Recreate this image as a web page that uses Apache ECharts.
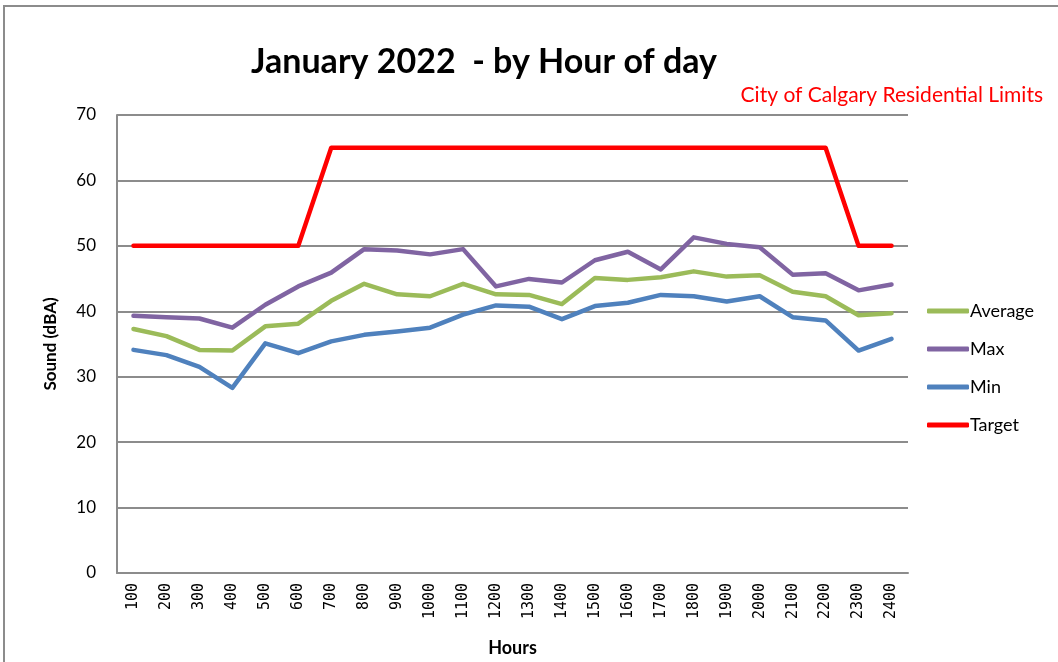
<!DOCTYPE html>
<html><head><meta charset="utf-8">
<script src="https://cdn.jsdelivr.net/npm/echarts@6/dist/echarts.min.js"></script>
<style>html,body{margin:0;padding:0;background:#fff}#c{width:1058px;height:662px}</style>
</head><body><div id="c"></div>
<script>
const hours = ['100','200','300','400','500','600','700','800','900','1000','1100','1200','1300','1400','1500','1600','1700','1800','1900','2000','2100','2200','2300','2400'];
const average = [37.3,36.2,34.1,34.0,37.7,38.1,41.6,44.2,42.6,42.3,44.2,42.6,42.5,41.1,45.1,44.8,45.2,46.1,45.3,45.5,43.0,42.3,39.4,39.7];
const maxv = [39.3,39.1,38.9,37.5,41.0,43.8,45.9,49.5,49.3,48.7,49.5,43.8,44.95,44.4,47.8,49.1,46.4,51.3,50.3,49.8,45.6,45.8,43.2,44.1];
const minv = [34.1,33.3,31.5,28.3,35.1,33.6,35.4,36.4,36.9,37.5,39.5,40.9,40.7,38.8,40.8,41.3,42.5,42.3,41.5,42.3,39.1,38.6,34.0,35.8];
const target = [50,50,50,50,50,50,65,65,65,65,65,65,65,65,65,65,65,65,65,65,65,65,50,50];
const yTicks = [0,10,20,30,40,50,60,70];

const font = 'Lato, "Open Sans", sans-serif';
const chart = echarts.init(document.getElementById('c'), null, {renderer:'canvas'});
function ln(name, data, color){
  return {name, type:'line', data, symbol:'none', smooth:false,
    lineStyle:{color, width:4.5, cap:'round', join:'round'}, itemStyle:{color}};
}
chart.setOption({
  animation:false,
  textStyle:{fontFamily:font},
  graphic:[{type:'rect', shape:{x:4, y:6, width:1100, height:700},
    style:{fill:null, stroke:'#8c8c8c', lineWidth:2}, silent:true}],
  title:[{text:'January 2022  - by Hour of day', left:479, top:40, textAlign:'center',
    textStyle:{fontFamily:font, fontSize:34, fontWeight:'bold', color:'#000'}},
    {text:'City of Calgary Residential Limits', right:10, top:80,
    textStyle:{fontFamily:font, fontSize:21, fontWeight:'normal', color:'#ff0000'}}],
  legend:{orient:'vertical', left:922, top:296, icon:'roundRect', itemWidth:42, itemHeight:5,
    itemGap:18, data:['Average','Max','Min','Target'],
    textStyle:{fontFamily:font, fontSize:18, color:'#000', lineHeight:20, padding:[0,0,0,-4]}},
  grid:{left:117, right:150, top:115, bottom:89},
  xAxis:{type:'category', data:hours, boundaryGap:true,
    name:'Hours', nameLocation:'middle', nameGap:66,
    nameTextStyle:{fontFamily:font, fontSize:18, fontWeight:'bold', color:'#000'},
    axisLine:{lineStyle:{color:'#8c8c8c', width:2}},
    axisTick:{show:false},
    axisLabel:{rotate:90, fontSize:15, color:'#000', fontFamily:'"DejaVu Sans Mono", monospace', margin:10, interval:0}},
  yAxis:{type:'value', min:0, max:70, interval:10,
    name:'Sound (dBA)', nameLocation:'middle', nameGap:58,
    nameTextStyle:{fontFamily:font, fontSize:17, fontWeight:'bold', color:'#000'},
    axisLine:{show:true, lineStyle:{color:'#8c8c8c', width:2}},
    axisTick:{show:false},
    axisLabel:{fontSize:17, color:'#000', margin:21, fontFamily:font,
      formatter:v=>yTicks.includes(v)?String(v):''},
    splitLine:{lineStyle:{color:'#8c8c8c', width:2}}},
  series:[ln('Average', average, '#9bbb59'), ln('Max', maxv, '#8064a2'),
          ln('Min', minv, '#4f81bd'), ln('Target', target, '#ff0000')]
});
</script></body></html>
